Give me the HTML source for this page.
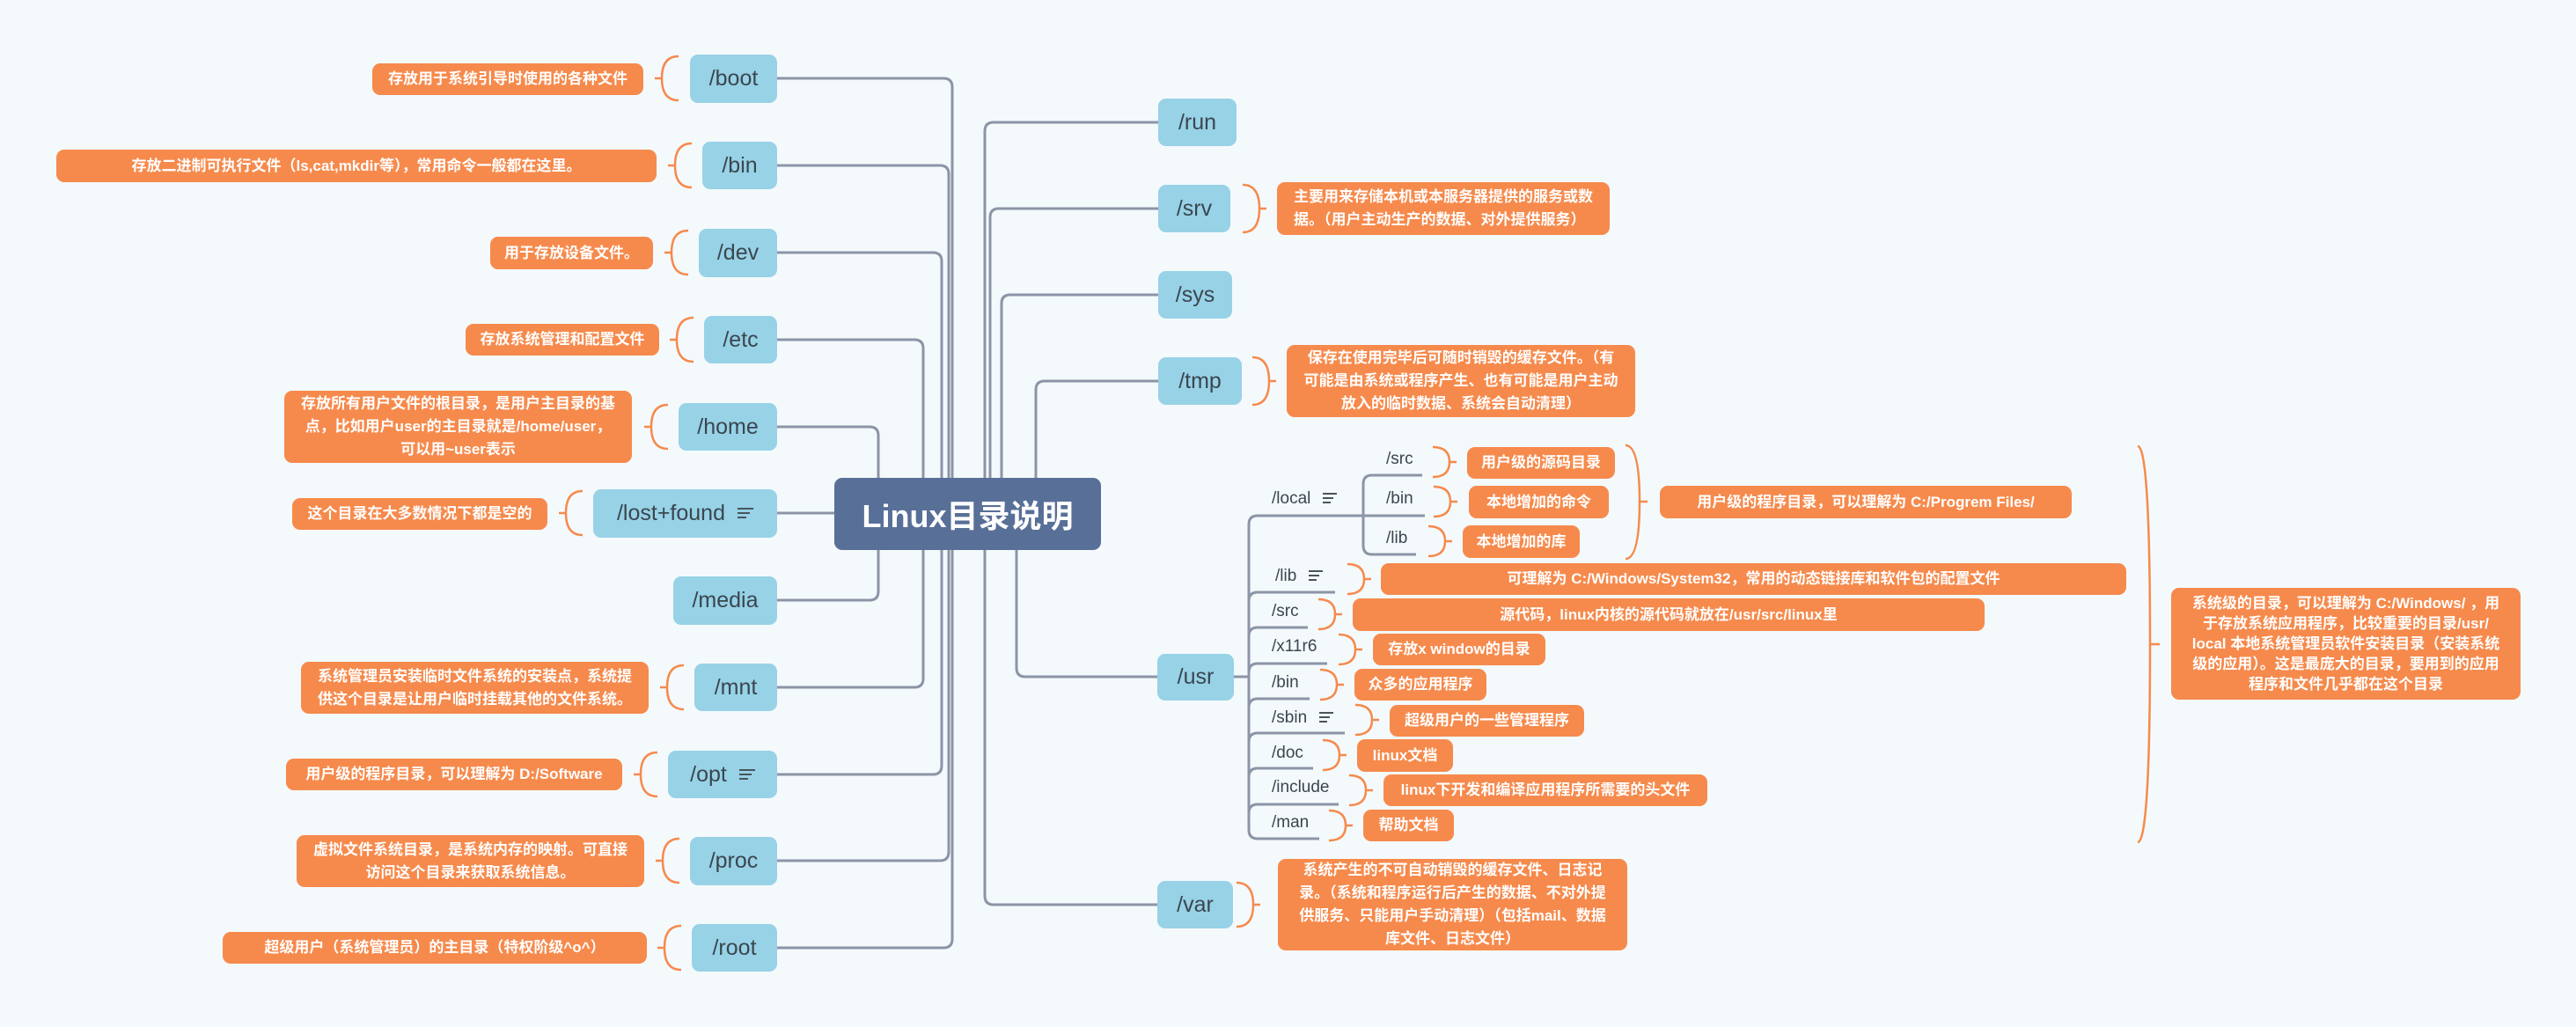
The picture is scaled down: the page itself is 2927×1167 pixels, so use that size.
<!DOCTYPE html>
<html><head><meta charset="utf-8">
<style>
html,body{margin:0;padding:0;}
body{width:2927px;height:1167px;background:#f4f9fc;position:relative;overflow:hidden;font-family:"Liberation Sans","Noto Sans CJK SC",sans-serif;}
.b{position:absolute;background:#97d2e7;border-radius:9px;color:#3b464e;font-size:25px;display:flex;align-items:center;justify-content:center;box-sizing:border-box;}
.n{position:absolute;background:#f68a4c;border-radius:9px;color:#fff;font-weight:bold;font-size:17px;line-height:26px;display:flex;align-items:center;justify-content:center;text-align:center;white-space:nowrap;box-sizing:border-box;}
.l{position:absolute;color:#3b464e;font-size:19px;white-space:nowrap;}
.ic{display:inline-block;width:18px;height:13px;margin-left:14px;vertical-align:middle;background:linear-gradient(#4a545c,#4a545c) 0 0/18px 2px no-repeat,linear-gradient(#4a545c,#4a545c) 0 5px/14px 2px no-repeat,linear-gradient(#4a545c,#4a545c) 0 10px/10px 2px no-repeat;}
svg{position:absolute;left:0;top:0;}
</style></head><body>
<svg width="2927" height="1167">
<g fill="none" stroke="#8b95a6" stroke-width="3">
<path d="M883,89 H1072 Q1082,89 1082,99 V543"/>
<path d="M883,188 H1068 Q1078,188 1078,198 V543"/>
<path d="M883,287 H1060 Q1070,287 1070,297 V543"/>
<path d="M883,386 H1039 Q1049,386 1049,396 V543"/>
<path d="M883,485 H988 Q998,485 998,495 V543"/>
<path d="M883,583 H948"/>
<path d="M883,682 H988 Q998,682 998,672 V625"/>
<path d="M883,781 H1039 Q1049,781 1049,771 V625"/>
<path d="M883,880 H1060 Q1070,880 1070,870 V625"/>
<path d="M883,978 H1068 Q1078,978 1078,968 V625"/>
<path d="M883,1077 H1072 Q1082,1077 1082,1067 V625"/>
<path d="M1316,139 H1129 Q1119,139 1119,149 V543"/>
<path d="M1316,237 H1135 Q1125,237 1125,247 V543"/>
<path d="M1316,335 H1148 Q1138,335 1138,345 V543"/>
<path d="M1316,433 H1187 Q1177,433 1177,443 V543"/>
<path d="M1316,769 H1165 Q1155,769 1155,759 V625"/>
<path d="M1316,1028 H1129 Q1119,1028 1119,1018 V625"/>
<path d="M1402,769 H1419"/>
<path d="M1549,586 V596 M1419,596 Q1419,586 1429,586 H1549"/>
<path d="M1419,596 V943 Q1419,953 1429,953 H1499"/>
<path d="M1419,683 Q1419,673 1429,673 H1517"/>
<path d="M1419,723 Q1419,713 1429,713 H1486"/>
<path d="M1419,764 Q1419,754 1429,754 H1508"/>
<path d="M1419,804 Q1419,794 1429,794 H1488"/>
<path d="M1419,843 Q1419,833 1429,833 H1528"/>
<path d="M1419,883 Q1419,873 1429,873 H1492"/>
<path d="M1419,924 Q1419,914 1429,914 H1521"/>
<path d="M1616,540 H1559 Q1549,540 1549,550 V620 Q1549,630 1559,630 H1609"/>
<path d="M1549,586 H1619"/>
</g>
<g fill="none" stroke="#f68a4c" stroke-width="2.5">
<!-- left brackets: R top, L mid -->
<path d="M771,64 Q752,64 752,89 Q752,114 771,114 M744,89 H752"/>
<path d="M786,163 Q767,163 767,188 Q767,213 786,213 M759,188 H767"/>
<path d="M782,262 Q763,262 763,287 Q763,312 782,312 M755,287 H763"/>
<path d="M788,361 Q769,361 769,386 Q769,411 788,411 M761,386 H769"/>
<path d="M759,460 Q740,460 740,485 Q740,510 759,510 M732,485 H740"/>
<path d="M662,558 Q643,558 643,583 Q643,608 662,608 M635,583 H643"/>
<path d="M777,756 Q758,756 758,781 Q758,806 777,806 M750,781 H758"/>
<path d="M747,855 Q728,855 728,880 Q728,905 747,905 M720,880 H728"/>
<path d="M772,953 Q753,953 753,978 Q753,1003 772,1003 M745,978 H753"/>
<path d="M774,1052 Q755,1052 755,1077 Q755,1102 774,1102 M747,1077 H755"/>
<!-- right brackets -->
<path d="M1412,210 Q1431,210 1431,237 Q1431,264 1412,264 M1431,237 H1439"/>
<path d="M1423,406 Q1442,406 1442,433 Q1442,460 1423,460 M1442,433 H1450"/>
<path d="M1405,1003 Q1424,1003 1424,1028 Q1424,1053 1405,1053 M1424,1028 H1432"/>
<path d="M1628,508 Q1647,508 1647,525 Q1647,542 1628,542 M1647,525 H1655"/>
<path d="M1629,553 Q1648,553 1648,570 Q1648,587 1629,587 M1648,570 H1656"/>
<path d="M1623,598 Q1642,598 1642,615 Q1642,632 1623,632 M1642,615 H1650"/>
<path d="M1531,641 Q1550,641 1550,658 Q1550,675 1531,675 M1550,658 H1558"/>
<path d="M1498,681 Q1517,681 1517,698 Q1517,715 1498,715 M1517,698 H1525"/>
<path d="M1521,721 Q1540,721 1540,738 Q1540,755 1521,755 M1540,738 H1548"/>
<path d="M1500,761 Q1519,761 1519,778 Q1519,795 1500,795 M1519,778 H1527"/>
<path d="M1540,801 Q1559,801 1559,818 Q1559,835 1540,835 M1559,818 H1567"/>
<path d="M1503,841 Q1522,841 1522,858 Q1522,875 1503,875 M1522,858 H1530"/>
<path d="M1533,881 Q1552,881 1552,898 Q1552,915 1533,915 M1552,898 H1560"/>
<path d="M1510,921 Q1529,921 1529,938 Q1529,955 1510,955 M1529,938 H1537"/>
<path d="M1847,506 Q1863,506 1863,570 Q1863,635 1847,635 M1863,570 H1872"/>
<path d="M2429,507 Q2443,507 2443,732 Q2443,957 2429,957 M2443,732 H2454"/>
</g>
</svg>

<div style="position:absolute;left:948px;top:543px;width:303px;height:82px;background:#586f98;border-radius:9px;color:#fff;font-weight:bold;font-size:36px;display:flex;align-items:center;justify-content:center;">Linux目录说明</div>

<div class="b" style="left:784px;top:62px;width:99px;height:55px;">/boot</div>
<div class="b" style="left:798px;top:161px;width:85px;height:54px;">/bin</div>
<div class="b" style="left:794px;top:260px;width:89px;height:55px;">/dev</div>
<div class="b" style="left:800px;top:359px;width:83px;height:54px;">/etc</div>
<div class="b" style="left:771px;top:458px;width:112px;height:54px;">/home</div>
<div class="b" style="left:674px;top:556px;width:209px;height:55px;">/lost+found<span class="ic"></span></div>
<div class="b" style="left:765px;top:655px;width:118px;height:55px;">/media</div>
<div class="b" style="left:789px;top:754px;width:94px;height:54px;">/mnt</div>
<div class="b" style="left:759px;top:853px;width:124px;height:54px;">/opt<span class="ic"></span></div>
<div class="b" style="left:784px;top:951px;width:99px;height:55px;">/proc</div>
<div class="b" style="left:786px;top:1050px;width:97px;height:54px;">/root</div>

<div class="b" style="left:1316px;top:112px;width:89px;height:54px;">/run</div>
<div class="b" style="left:1316px;top:210px;width:82px;height:54px;">/srv</div>
<div class="b" style="left:1316px;top:308px;width:84px;height:54px;">/sys</div>
<div class="b" style="left:1316px;top:406px;width:95px;height:54px;">/tmp</div>
<div class="b" style="left:1315px;top:743px;width:87px;height:53px;">/usr</div>
<div class="b" style="left:1315px;top:1001px;width:86px;height:54px;">/var</div>

<div class="n" style="left:423px;top:72px;width:308px;height:36px;">存放用于系统引导时使用的各种文件</div>
<div class="n" style="left:64px;top:170px;width:682px;height:37px;">存放二进制可执行文件（ls,cat,mkdir等），常用命令一般都在这里。</div>
<div class="n" style="left:557px;top:269px;width:185px;height:37px;">用于存放设备文件。</div>
<div class="n" style="left:529px;top:368px;width:220px;height:36px;">存放系统管理和配置文件</div>
<div class="n" style="left:323px;top:444px;width:395px;height:82px;">存放所有用户文件的根目录，是用户主目录的基<br>点，比如用户user的主目录就是/home/user，<br>可以用~user表示</div>
<div class="n" style="left:332px;top:566px;width:290px;height:36px;">这个目录在大多数情况下都是空的</div>
<div class="n" style="left:342px;top:752px;width:395px;height:59px;">系统管理员安装临时文件系统的安装点，系统提<br>供这个目录是让用户临时挂载其他的文件系统。</div>
<div class="n" style="left:325px;top:862px;width:382px;height:36px;">用户级的程序目录，可以理解为 D:/Software</div>
<div class="n" style="left:337px;top:949px;width:395px;height:59px;">虚拟文件系统目录，是系统内存的映射。可直接<br>访问这个目录来获取系统信息。</div>
<div class="n" style="left:253px;top:1059px;width:482px;height:36px;">超级用户（系统管理员）的主目录（特权阶级^o^）</div>

<div class="n" style="left:1451px;top:207px;width:378px;height:60px;text-align:left;">主要用来存储本机或本服务器提供的服务或数<br>据。（用户主动生产的数据、对外提供服务）</div>
<div class="n" style="left:1462px;top:392px;width:396px;height:82px;">保存在使用完毕后可随时销毁的缓存文件。（有<br>可能是由系统或程序产生、也有可能是用户主动<br>放入的临时数据、系统会自动清理）</div>
<div class="n" style="left:1452px;top:976px;width:397px;height:104px;">系统产生的不可自动销毁的缓存文件、日志记<br>录。（系统和程序运行后产生的数据、不对外提<br>供服务、只能用户手动清理）（包括mail、数据<br>库文件、日志文件）</div>

<div class="l" style="left:1445px;top:556px;">/local<span class="ic" style="width:16px;background-size:16px 2px,12px 2px,9px 2px"></span></div>
<div class="l" style="left:1575px;top:511px;">/src</div>
<div class="l" style="left:1575px;top:556px;">/bin</div>
<div class="l" style="left:1575px;top:601px;">/lib</div>
<div class="n" style="left:1667px;top:508px;width:168px;height:36px;">用户级的源码目录</div>
<div class="n" style="left:1669px;top:552px;width:159px;height:37px;">本地增加的命令</div>
<div class="n" style="left:1662px;top:597px;width:133px;height:37px;">本地增加的库</div>
<div class="n" style="left:1886px;top:552px;width:468px;height:37px;">用户级的程序目录，可以理解为 C:/Progrem Files/</div>

<div class="l" style="left:1449px;top:644px;">/lib<span class="ic" style="width:16px;background-size:16px 2px,12px 2px,9px 2px"></span></div>
<div class="l" style="left:1445px;top:684px;">/src</div>
<div class="l" style="left:1445px;top:724px;">/x11r6</div>
<div class="l" style="left:1445px;top:765px;">/bin</div>
<div class="l" style="left:1445px;top:805px;">/sbin<span class="ic" style="width:16px;background-size:16px 2px,12px 2px,9px 2px"></span></div>
<div class="l" style="left:1445px;top:845px;">/doc</div>
<div class="l" style="left:1445px;top:884px;">/include</div>
<div class="l" style="left:1445px;top:924px;">/man</div>

<div class="n" style="left:1569px;top:640px;width:847px;height:36px;">可理解为 C:/Windows/System32，常用的动态链接库和软件包的配置文件</div>
<div class="n" style="left:1537px;top:680px;width:718px;height:37px;">源代码，linux内核的源代码就放在/usr/src/linux里</div>
<div class="n" style="left:1560px;top:720px;width:196px;height:36px;">存放x window的目录</div>
<div class="n" style="left:1539px;top:760px;width:150px;height:36px;">众多的应用程序</div>
<div class="n" style="left:1579px;top:801px;width:221px;height:36px;">超级用户的一些管理程序</div>
<div class="n" style="left:1542px;top:840px;width:109px;height:37px;">linux文档</div>
<div class="n" style="left:1572px;top:880px;width:368px;height:36px;">linux下开发和编译应用程序所需要的头文件</div>
<div class="n" style="left:1549px;top:920px;width:103px;height:36px;">帮助文档</div>

<div class="n" style="left:2467px;top:668px;width:397px;height:127px;line-height:23px;">系统级的目录，可以理解为 C:/Windows/ ，用<br>于存放系统应用程序，比较重要的目录/usr/<br>local 本地系统管理员软件安装目录（安装系统<br>级的应用）。这是最庞大的目录，要用到的应用<br>程序和文件几乎都在这个目录</div>
</body></html>
